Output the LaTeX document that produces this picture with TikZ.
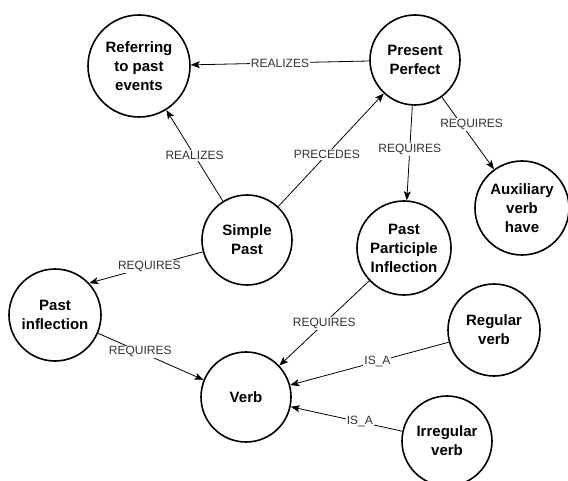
\documentclass[tikz,border=0pt]{standalone}
\usepackage{fontspec}
\setmainfont{Liberation Sans}
\usetikzlibrary{arrows.meta}
\begin{document}
\begin{tikzpicture}[x=1pt,y=-1pt,
  concept/.style={circle, draw, line width=1.6pt, align=center, inner sep=0pt, font=\fontsize{15}{19}\selectfont\bfseries},
  rel/.style={line width=0.8pt, -{Stealth[length=9pt,width=7pt,inset=2pt]}},
  lbl/.style={fill=white, inner sep=1pt, font=\fontsize{12}{14}\selectfont, text=black!80}]
\useasboundingbox (0,0) rectangle (568,481);
\node[concept, minimum size=102pt] (ref) at (139,66) {Referring\\to past\\events};
\node[concept, minimum size=90pt] (pp) at (415,60) {Present\\Perfect};
\node[concept, minimum size=90pt] (sp) at (247,240) {Simple\\Past};
\node[concept, minimum size=94pt] (aux) at (522,208) {Auxiliary\\verb\\have};
\node[concept, minimum size=94pt] (ppi) at (404,248) {Past\\Participle\\Inflection};
\node[concept, minimum size=92pt] (pi) at (55,315) {Past\\inflection};
\node[concept, minimum size=90pt] (verb) at (246,397) {Verb};
\node[concept, minimum size=92pt] (reg) at (494,330) {Regular\\verb};
\node[concept, minimum size=90pt] (irr) at (447,441) {Irregular\\verb};

\draw[rel] (pp) -- node[lbl, pos=0.5] {REALIZES} (ref);
\draw[rel] (sp) -- node[lbl, pos=0.5] {REALIZES} (ref);
\draw[rel] (sp) -- node[lbl, pos=0.46] {PRECEDES} (pp);
\draw[rel] (pp) -- node[lbl, pos=0.46] {REQUIRES} (ppi);
\draw[rel] (pp) -- node[lbl, pos=0.38, xshift=10pt] {REQUIRES} (aux);
\draw[rel] (sp.195) -- node[lbl, pos=0.47] {REQUIRES} (pi.43);
\draw[rel] (pi.-23) -- node[lbl, pos=0.4] {REQUIRES} (verb.158);
\draw[rel] (ppi) -- node[lbl, pos=0.5] {REQUIRES} (verb);
\draw[rel] (reg) -- node[lbl, pos=0.45] {IS\_A} (verb);
\draw[rel] (irr) -- node[lbl, pos=0.38] {IS\_A} (verb);
\end{tikzpicture}
\end{document}
